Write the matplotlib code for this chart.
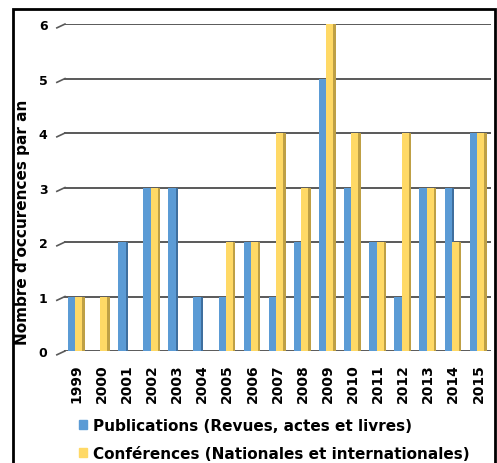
import numpy as np
import matplotlib
matplotlib.use("Agg")
import matplotlib.pyplot as plt
from matplotlib.patches import Rectangle, Patch

years = ["1999", "2000", "2001", "2002", "2003", "2004", "2005", "2006", "2007",
         "2008", "2009", "2010", "2011", "2012", "2013", "2014", "2015"]
publications = [1, 0, 2, 3, 3, 1, 1, 2, 1, 2, 5, 3, 2, 1, 3, 3, 4]
conferences = [1, 1, 0, 3, 0, 0, 2, 2, 4, 3, 6, 4, 2, 4, 3, 2, 4]
yticks = [0, 1, 2, 3, 4, 5, 6]

label_pub = "Publications (Revues, actes et livres)"
label_conf = "Conférences (Nationales et internationales)"
ylabel = "Nombre d'occurences par an"

blue, blue_side = "#5B9BD5", "#3F6F9E"
yellow, yellow_side = "#FFD966", "#BFA045"

plt.rcParams["font.family"] = "DejaVu Sans"
plt.rcParams["font.weight"] = "bold"

fig = plt.figure(figsize=(4.97, 4.64), dpi=100)
ax = fig.add_axes([0.129, 0.2414, 0.859, 0.7046])

x = np.arange(len(years))

# gridlines drawn first, bars sit in front
for v in yticks:
    ax.axhline(v, color="#595959", lw=1.4, zorder=0)
    ax.plot([-0.017, 0.002], [v - 0.07, v], transform=ax.get_yaxis_transform(),
            color="#595959", lw=1.2, clip_on=False)

# pseudo-3D bars: front face + darker side strip
ax.bar(x - 0.06, publications, width=0.09, align="edge", color=blue_side, zorder=2)
ax.bar(x - 0.35, publications, width=0.30, align="edge", color=blue, zorder=3)
ax.bar(x + 0.22, conferences, width=0.10, align="edge", color=yellow_side, zorder=4)
ax.bar(x - 0.06, conferences, width=0.28, align="edge", color=yellow, zorder=5)

ax.set_xlim(-0.5, len(years) - 0.5)
ax.set_ylim(0, 6)
ax.set_xticks(x)
ax.set_xticklabels(years, rotation=90, fontsize=10, fontweight="bold")
ax.set_yticks(yticks)
ax.set_yticklabels([str(v) for v in yticks], fontsize=9, fontweight="bold")
ax.tick_params(axis="both", length=0)
ax.tick_params(axis="x", pad=9)
ax.tick_params(axis="y", pad=12)
for s in ax.spines.values():
    s.set_visible(False)
ax.set_ylabel(ylabel, fontsize=11, fontweight="bold")
ax.yaxis.set_label_coords(-0.08, 0.398)

handles = [Patch(color=blue), Patch(color=yellow)]
fig.legend(handles, [label_pub, label_conf], loc="upper left",
           bbox_to_anchor=(0.158, 0.098), frameon=False,
           handlelength=0.55, handleheight=0.55, handletextpad=0.4,
           labelspacing=0.85, borderaxespad=0, borderpad=0,
           prop={"weight": "bold", "size": 11})

fig.patches.append(Rectangle((0.026, -0.05), 0.970, 1.028, transform=fig.transFigure,
                             fill=False, edgecolor="black", lw=2))

fig.savefig("out.png", dpi=100)
